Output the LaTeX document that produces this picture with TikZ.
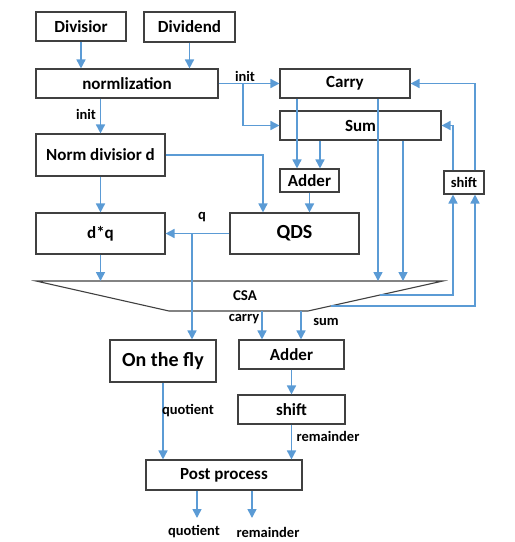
\documentclass[tikz,border=0pt]{standalone}
\usepackage{fontspec}
\setmainfont{Carlito}
\usepackage{xcolor}
\usepackage{tikz}
\usetikzlibrary{arrows.meta,calc}
\definecolor{linkblue}{RGB}{91,155,213}
\definecolor{boxgray}{RGB}{64,64,64}

\begin{document}
\begin{tikzpicture}[x=1pt,y=-1pt,
  blk/.style={draw=boxgray,line width=1.1pt,inner sep=0pt,font=\fontsize{17}{20}\selectfont\bfseries},
  big/.style={font=\fontsize{20}{24}\selectfont\bfseries},
  lbl/.style={inner sep=0pt,font=\fontsize{14.5}{17}\selectfont\bfseries},
  arr/.style={draw=linkblue,line width=1.6pt,-{Triangle[length=9pt,width=9pt]}}]
\useasboundingbox (0,0) rectangle (515,542);
% Draw the input boxes
\node[blk,minimum width=90pt,minimum height=29pt] (divisior) at (81,26.5) {Divisior};
\node[blk,minimum width=91pt,minimum height=30pt] (dividend) at (189.5,27) {Dividend};
\node[blk,minimum width=182pt,minimum height=29pt] (norm) at (127,83.5) {normlization};
\node[blk,minimum width=129pt,minimum height=42pt] (normd) at (100.5,155) {Norm divisior d};
\node[blk,minimum width=129pt,minimum height=41pt] (dq) at (100.5,233.5) {d*q};
% Draw the register boxes
\node[blk,minimum width=130pt,minimum height=29pt] (carry) at (345,83.5) {Carry};
\node[blk,minimum width=161pt,minimum height=29pt] (sum) at (360.5,125.5) {Sum};
\node[blk,minimum width=59pt,minimum height=23pt] (adder1) at (309.5,180.5) {Adder};
\node[blk,minimum width=40pt,minimum height=23pt,font=\fontsize{14.5}{17}\selectfont\bfseries] (shiftr) at (464,182.5) {shift};
\node[blk,big,minimum width=129pt,minimum height=41pt] (qds) at (294.5,233.5) {QDS};
% Draw the CSA
\coordinate (csatl) at (36,281);
\coordinate (csatr) at (443,281);
\coordinate (csabr) at (308,311);
\coordinate (csabl) at (169,311);
\draw[boxgray,line width=1.1pt] (csatl) -- (csatr) -- (csabr) -- (csabl) -- cycle;
\node[lbl,font=\fontsize{15}{18}\selectfont\bfseries] (csa) at (245,296) {CSA};
% Draw the output boxes
\node[blk,big,minimum width=106pt,minimum height=42pt] (fly) at (163,361) {On the fly};
\node[blk,minimum width=105pt,minimum height=29pt] (adder2) at (291.5,354.5) {Adder};
\node[blk,minimum width=107pt,minimum height=29pt] (shiftb) at (291.5,409.5) {shift};
\node[blk,minimum width=156pt,minimum height=30pt] (post) at (224,475) {Post process};
% Draw the arrows
\draw[arr] (divisior.south) -- (divisior.south |- norm.north);
\draw[arr] (dividend.south) -- (dividend.south |- norm.north);
\draw[arr] (normd.north |- norm.south) -- (normd.north);
\coordinate (initsplit) at (243,83.5);
\draw[arr] (norm.east) -- (carry.west);
\draw[arr] (initsplit) |- (sum.west);
\draw[arr] (297,0 |- carry.south) -- (297,0 |- adder1.north);
\draw[arr] (320,0 |- sum.south) -- (320,0 |- adder1.north);
\draw[arr] (378,0 |- carry.south) -- (378,0 |- csatr);
\draw[arr] (403,0 |- sum.south) -- (403,0 |- csatr);
\draw[arr] (453,0 |- shiftr.north) |- (sum.east);
\draw[arr] (475,0 |- shiftr.north) |- (carry.east);
\coordinate (fb1) at ($(csabr)!0.53!(csatr)$);
\coordinate (fb2) at ($(csabr)!0.17!(csatr)$);
\draw[arr] (fb1) -| (453,0 |- shiftr.south);
\draw[arr] (fb2) -| (475,0 |- shiftr.south);
\draw[arr] (normd.east) -| (263,0 |- qds.north);
\draw[arr] (adder1.south) -- (adder1.south |- qds.north);
\draw[arr] (normd.south) -- (dq.north);
\draw[arr] (qds.west) -- (dq.east);
\coordinate (qsplit) at (192,233.5);
\draw[arr] (qsplit) -- (qsplit |- fly.north);
\draw[arr] (dq.south) -- (dq.south |- csatl);
\draw[arr] (262,0 |- csabl) -- (262,0 |- adder2.north);
\draw[arr] (301,0 |- csabl) -- (301,0 |- adder2.north);
\draw[arr] (adder2.south) -- (shiftb.north);
\draw[arr] (fly.south) -- (fly.south |- post.north);
\draw[arr] (shiftb.south) -- (shiftb.south |- post.north);
\coordinate (qend) at (197,518);
\coordinate (rend) at (252,518);
\draw[arr] (197,0 |- post.south) -- (qend);
\draw[arr] (252,0 |- post.south) -- (rend);
% Add labels
\node[lbl] (initl) at (86,114) {init};
\node[lbl] (initr) at (245,76) {init};
\node[lbl] (ql) at (202,217) {q};
\node[lbl] (carryl) at (244,319) {carry};
\node[lbl] (suml) at (326,322) {sum};
\node[lbl] (quotl) at (188,411) {quotient};
\node[lbl] (reml) at (328,436) {remainder};
\node[lbl] (quotout) at (194,532) {quotient};
\node[lbl] (remout) at (268,532) {remainder};
\end{tikzpicture}
\end{document}
